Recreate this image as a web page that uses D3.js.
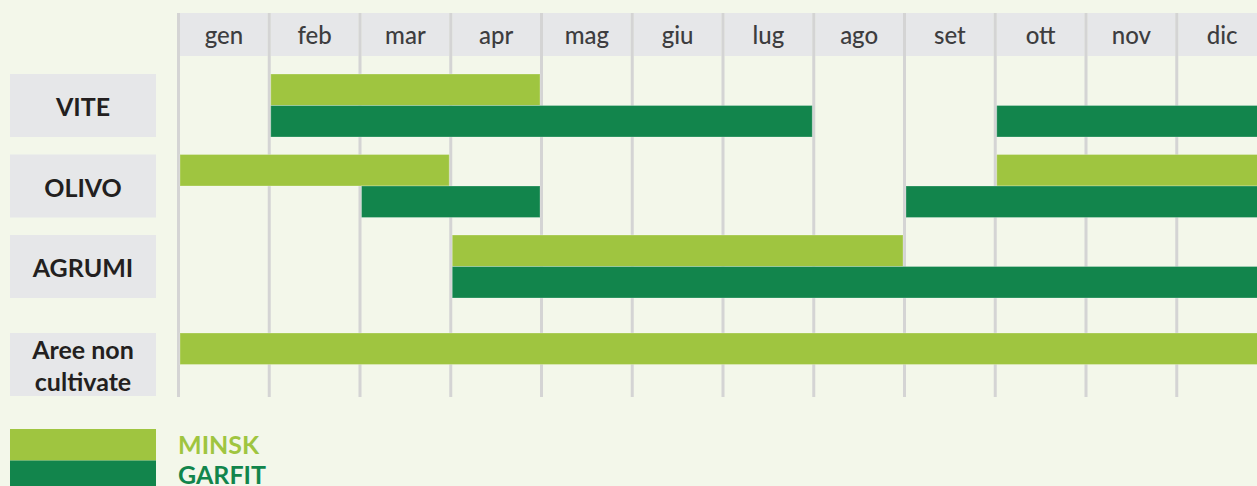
<!DOCTYPE html>
<html>
<head>
<meta charset="utf-8">
<script src="https://cdn.jsdelivr.net/npm/d3@7"></script>
<style>
  html, body { margin: 0; padding: 0; background: #f3f7ea; }
  svg { display: block; }
  text { font-family: "Lato", "Open Sans", sans-serif; }
</style>
</head>
<body>
<div id="chart"></div>
<script>
// months on the header row
var months = ["gen", "feb", "mar", "apr", "mag", "giu", "lug", "ago", "set", "ott", "nov", "dic"];
var crops = ["VITE", "OLIVO", "AGRUMI", "Aree non cultivate"];
var products = ["MINSK", "GARFIT"];

// treatment windows, first and last month inclusive
var minskPeriods = [
  {crop: "VITE", from: "feb", to: "apr"},
  {crop: "OLIVO", from: "gen", to: "mar"},
  {crop: "OLIVO", from: "ott", to: "dic"},
  {crop: "AGRUMI", from: "apr", to: "ago"},
  {crop: "Aree non cultivate", from: "gen", to: "dic"}
];
var garfitPeriods = [
  {crop: "VITE", from: "feb", to: "lug"},
  {crop: "VITE", from: "ott", to: "dic"},
  {crop: "OLIVO", from: "mar", to: "apr"},
  {crop: "OLIVO", from: "set", to: "dic"},
  {crop: "AGRUMI", from: "apr", to: "dic"}
];

var width = 1257, height = 486,
    colors = {MINSK: "#9fc540", GARFIT: "#12854c"},
    gridTop = 13, gridBottom = 397,
    barH = 31.5;

var svg = d3.select("#chart").append("svg")
    .attr("width", width)
    .attr("height", height);

var x = d3.scaleLinear().domain([0, 12]).range([178.5, 178.5 + 12 * 90.75]);
var rowY = d3.scaleOrdinal().domain(crops).range([74, 154.5, 235, 333]);

function mi(m) { return months.indexOf(m); }

// header boxes
svg.append("g").selectAll("rect")
    .data(months)
  .enter().append("rect")
    .attr("x", function (d, i) { return x(i) + 1.5; })
    .attr("y", gridTop)
    .attr("width", function (d, i) { return x(i + 1) - x(i) - 3; })
    .attr("height", 43)
    .attr("fill", "#e6e7e9");

svg.append("g").selectAll("text")
    .data(months)
  .enter().append("text")
    .attr("x", function (d, i) { return (x(i) + x(i + 1)) / 2; })
    .attr("y", 44)
    .attr("text-anchor", "middle")
    .attr("font-size", 24)
    .attr("font-weight", 500)
    .attr("fill", "#3d3d3f")
    .text(function (d) { return d; });

// vertical grid
svg.append("g").selectAll("line")
    .data(d3.range(0, 13))
  .enter().append("line")
    .attr("x1", function (d) { return x(d); })
    .attr("x2", function (d) { return x(d); })
    .attr("y1", gridTop)
    .attr("y2", gridBottom)
    .attr("stroke", "#d4d4d4")
    .attr("stroke-width", 3);

// row label boxes
var rows = svg.append("g").selectAll("g")
    .data(crops)
  .enter().append("g");

rows.append("rect")
    .attr("x", 10)
    .attr("y", function (d) { return rowY(d); })
    .attr("width", 146)
    .attr("height", 63)
    .attr("fill", "#e6e7e9");

rows.append("text")
    .attr("x", 83)
    .attr("y", function (d) { return rowY(d) + 42; })
    .attr("text-anchor", "middle")
    .attr("font-size", 25)
    .attr("font-weight", 700)
    .attr("fill", "#231f20")
    .each(function (d) {
      var words = d === "Aree non cultivate" ? ["Aree non", "cultivate"] : [d];
      var t = d3.select(this);
      if (words.length > 1) t.attr("y", rowY(d) + 26);
      words.forEach(function (w, i) {
        t.append("tspan").attr("x", 83).attr("dy", i ? 32 : 0).text(w);
      });
    });

// bars
function drawBars(periods, name, offset) {
  svg.append("g").selectAll("rect")
      .data(periods)
    .enter().append("rect")
      .attr("x", function (d) { return x(mi(d.from)) + 1.5; })
      .attr("y", function (d) { return rowY(d.crop) + offset; })
      .attr("width", function (d) { return x(mi(d.to) + 1) - x(mi(d.from)) - 3; })
      .attr("height", barH)
      .attr("fill", colors[name])
      .attr("stroke", "rgba(255,255,255,0.25)")
      .attr("stroke-width", 1);
}
drawBars(minskPeriods, "MINSK", 0);
drawBars(garfitPeriods, "GARFIT", barH);

// legend
var legend = svg.append("g").selectAll("g")
    .data(products)
  .enter().append("g");

legend.append("rect")
    .attr("x", 10)
    .attr("y", function (d, i) { return 429 + i * barH; })
    .attr("width", 146)
    .attr("height", barH)
    .attr("fill", function (d) { return colors[d]; });

legend.append("text")
    .attr("x", 178)
    .attr("y", function (d, i) { return 454 + i * 30; })
    .attr("font-size", 25)
    .attr("font-weight", 700)
    .attr("fill", function (d) { return colors[d]; })
    .text(function (d) { return d; });
</script>
</body>
</html>
